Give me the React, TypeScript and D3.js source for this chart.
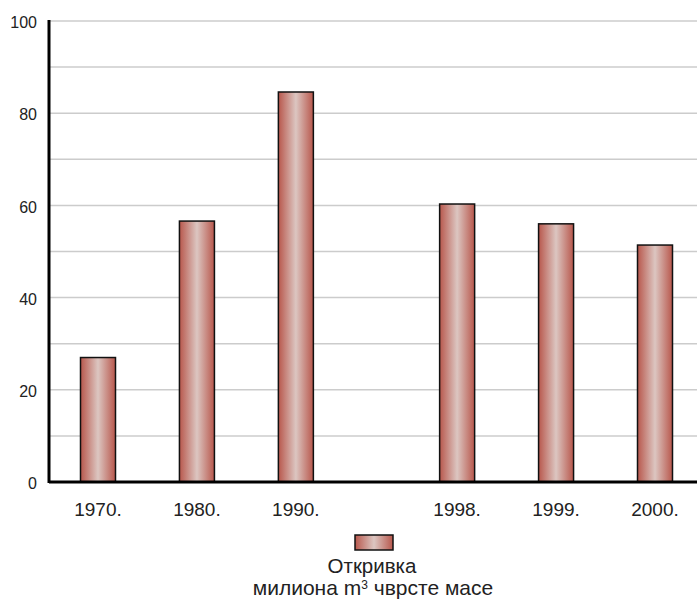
import React from "react";
import * as d3 from "d3";

const categories = ["1970.", "1980.", "1990.", "1998.", "1999.", "2000."];
const values = [27, 56.6, 84.6, 60.3, 56.0, 51.4];
const yTicks = [0, 20, 40, 60, 80, 100];
const gridValues = [10, 20, 30, 40, 50, 60, 70, 80, 90, 100];
const legendTitle = "Откривка";

const W = 697;
const H = 600;
const left = 49;
const top = 21;
const bottom = 482;
const GAP = 0.63;

export default function App() {
  const y = d3.scaleLinear().domain([0, 100]).range([bottom, top]);
  const slot = categories.map((_, i) => (i >= 3 ? i + GAP : i));
  const x = d3.scaleLinear().domain([0, 5 + GAP]).range([98, 655]);
  const bw = 35;
  return (
    <svg width={W} height={H} style={{ position: "absolute", left: 0, top: 0 }} fontFamily="'Liberation Sans', Arial, sans-serif">
      <defs>
        <linearGradient id="barg" x1="0" x2="1" y1="0" y2="0">
          <stop offset="0" stopColor="#b8574c" />
          <stop offset="0.5" stopColor="#dcc6c1" />
          <stop offset="1" stopColor="#b8574c" />
        </linearGradient>
      </defs>
      {gridValues.map((v) => (
        <line key={v} x1={left} x2={W} y1={y(v)} y2={y(v)} stroke="#cccccc" strokeWidth={1.5} />
      ))}
      {values.map((v, i) => (
        <rect key={i} x={x(slot[i]) - bw / 2} y={y(v)} width={bw} height={y(0) - y(v)} fill="url(#barg)" stroke="#111" strokeWidth={1.5} />
      ))}
      <line x1={left} x2={left} y1={top - 1} y2={bottom + 1} stroke="#000" strokeWidth={3} />
      <line x1={left} x2={W} y1={bottom} y2={bottom} stroke="#000" strokeWidth={3} />
      {yTicks.map((v) => (
        <text key={v} x={37} y={y(v) + 1.5} dy="0.35em" textAnchor="end" fontSize={16} fill="#222">{v}</text>
      ))}
      {categories.map((c, i) => (
        <text key={c} x={x(slot[i])} y={516} textAnchor="middle" fontSize={19} fill="#222">{c}</text>
      ))}
      <rect x={355} y={535} width={38} height={15} fill="url(#barg)" stroke="#111" strokeWidth={1.5} />
      <text x={372} y={573} textAnchor="middle" fontSize={20.5} fill="#222">{legendTitle}</text>
      <text x={373} y={595} textAnchor="middle" fontSize={21} fill="#222">
        милиона m<tspan fontSize={12} dy={-6}>3</tspan><tspan dy={6}> чврсте масе</tspan>
      </text>
    </svg>
  );
}
